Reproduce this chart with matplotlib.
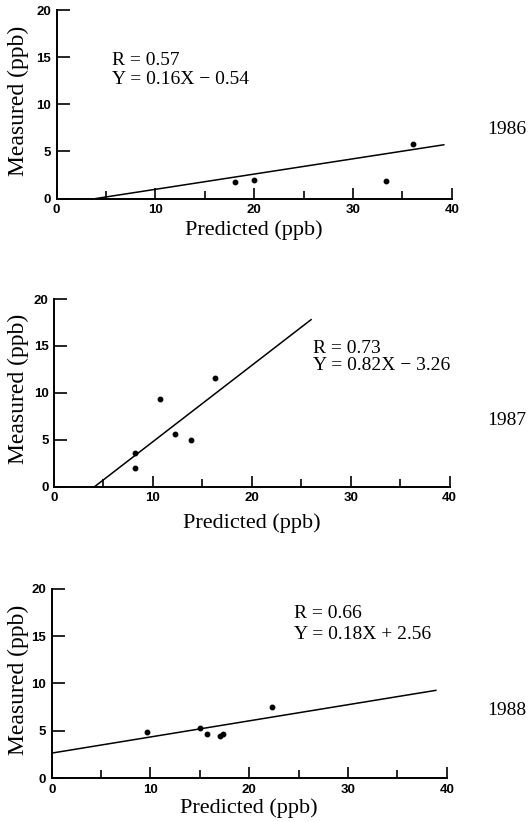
import numpy as np
import matplotlib
matplotlib.use("Agg")
import matplotlib.pyplot as plt

# data
x86 = [18.1, 20.0, 33.3, 36.1]
y86 = [1.7, 1.95, 1.9, 5.8]
x87 = [8.2, 8.15, 10.7, 12.2, 13.9, 16.3]
y87 = [3.6, 2.0, 9.3, 5.6, 5.0, 11.6]
x88 = [9.6, 15.0, 15.7, 17.0, 17.35, 22.3]
y88 = [4.9, 5.3, 4.7, 4.4, 4.7, 7.5]

# regression lines (end points as drawn)
fit86_x = [4.0, 39.2]
fit86_y = [0.0, 5.7]
fit87_x = [4.1, 26.0]
fit87_y = [0.0, 17.8]
fit88_x = [0.0, 38.9]
fit88_y = [2.63, 9.26]

stats = [("R = 0.57", "Y = 0.16X \u2212 0.54"),
         ("R = 0.73", "Y = 0.82X \u2212 3.26"),
         ("R = 0.66", "Y = 0.18X + 2.56")]
years = ["1986", "1987", "1988"]

serif = "Liberation Serif"
W, H = 531, 822
fig = plt.figure(figsize=(W / 100, H / 100), dpi=100)

# axes boxes in pixels: left, right, bottom, top
boxes = [(56.5, 451.7, 198.5, 10.0),
         (54.0, 449.5, 486.7, 299.0),
         (51.7, 446.7, 778.0, 588.7)]
txtpos = [(5.6, 14.2, 12.2), (26.2, 14.2, 12.4), (24.5, 16.9, 14.7)]
xs = [x86, x87, x88]
ys = [y86, y87, y88]
fx = [fit86_x, fit87_x, fit88_x]
fy = [fit86_y, fit87_y, fit88_y]
year_y = [130, 420, 710]
xlab_y = [230, 523, 808]

for i in range(3):
    l, r, b, t = boxes[i]
    ax = fig.add_axes([l / W, 1 - b / H, (r - l) / W, (b - t) / H])
    ax.plot(fx[i], fy[i], color="black", lw=1.1)
    ax.plot(xs[i], ys[i], "o", color="black", ms=3.2)
    ax.set_xlim(0, 40)
    ax.set_ylim(0, 20)
    ax.spines["top"].set_visible(False)
    ax.spines["right"].set_visible(False)
    ax.spines["left"].set_linewidth(1.4)
    ax.spines["bottom"].set_linewidth(1.4)
    ax.set_xticks([0, 10, 20, 30, 40])
    ax.set_xticks([5, 15, 25, 35], minor=True)
    ax.set_yticks([0, 5, 10, 15, 20])
    ax.tick_params(axis="x", which="major", direction="in", length=8, width=1.2, pad=4)
    ax.tick_params(axis="x", which="minor", direction="in", length=6, width=1.2)
    ax.tick_params(axis="y", direction="in", length=9, width=1.2, pad=4)
    for lab in ax.get_xticklabels() + ax.get_yticklabels():
        lab.set_fontfamily("Liberation Sans")
        lab.set_fontweight("bold")
        lab.set_fontsize(9.5)
    ax.set_xlabel("Predicted (ppb)", family=serif, fontsize=16, va="center")
    ax.xaxis.set_label_coords(0.5, -(xlab_y[i] - b) / (b - t))
    ax.set_ylabel("Measured (ppb)", family=serif, fontsize=17, va="center")
    ax.yaxis.set_label_coords((18 - l) / (r - l), 0.52)
    tx, ty1, ty2 = txtpos[i]
    ax.text(tx, ty1, stats[i][0], family=serif, fontsize=14, va="baseline")
    ax.text(tx, ty2, stats[i][1], family=serif, fontsize=14, va="baseline")
    fig.text(507 / W, 1 - year_y[i] / H, years[i], family=serif, fontsize=14,
             ha="center", va="center")

fig.savefig("out.png", dpi=100)
